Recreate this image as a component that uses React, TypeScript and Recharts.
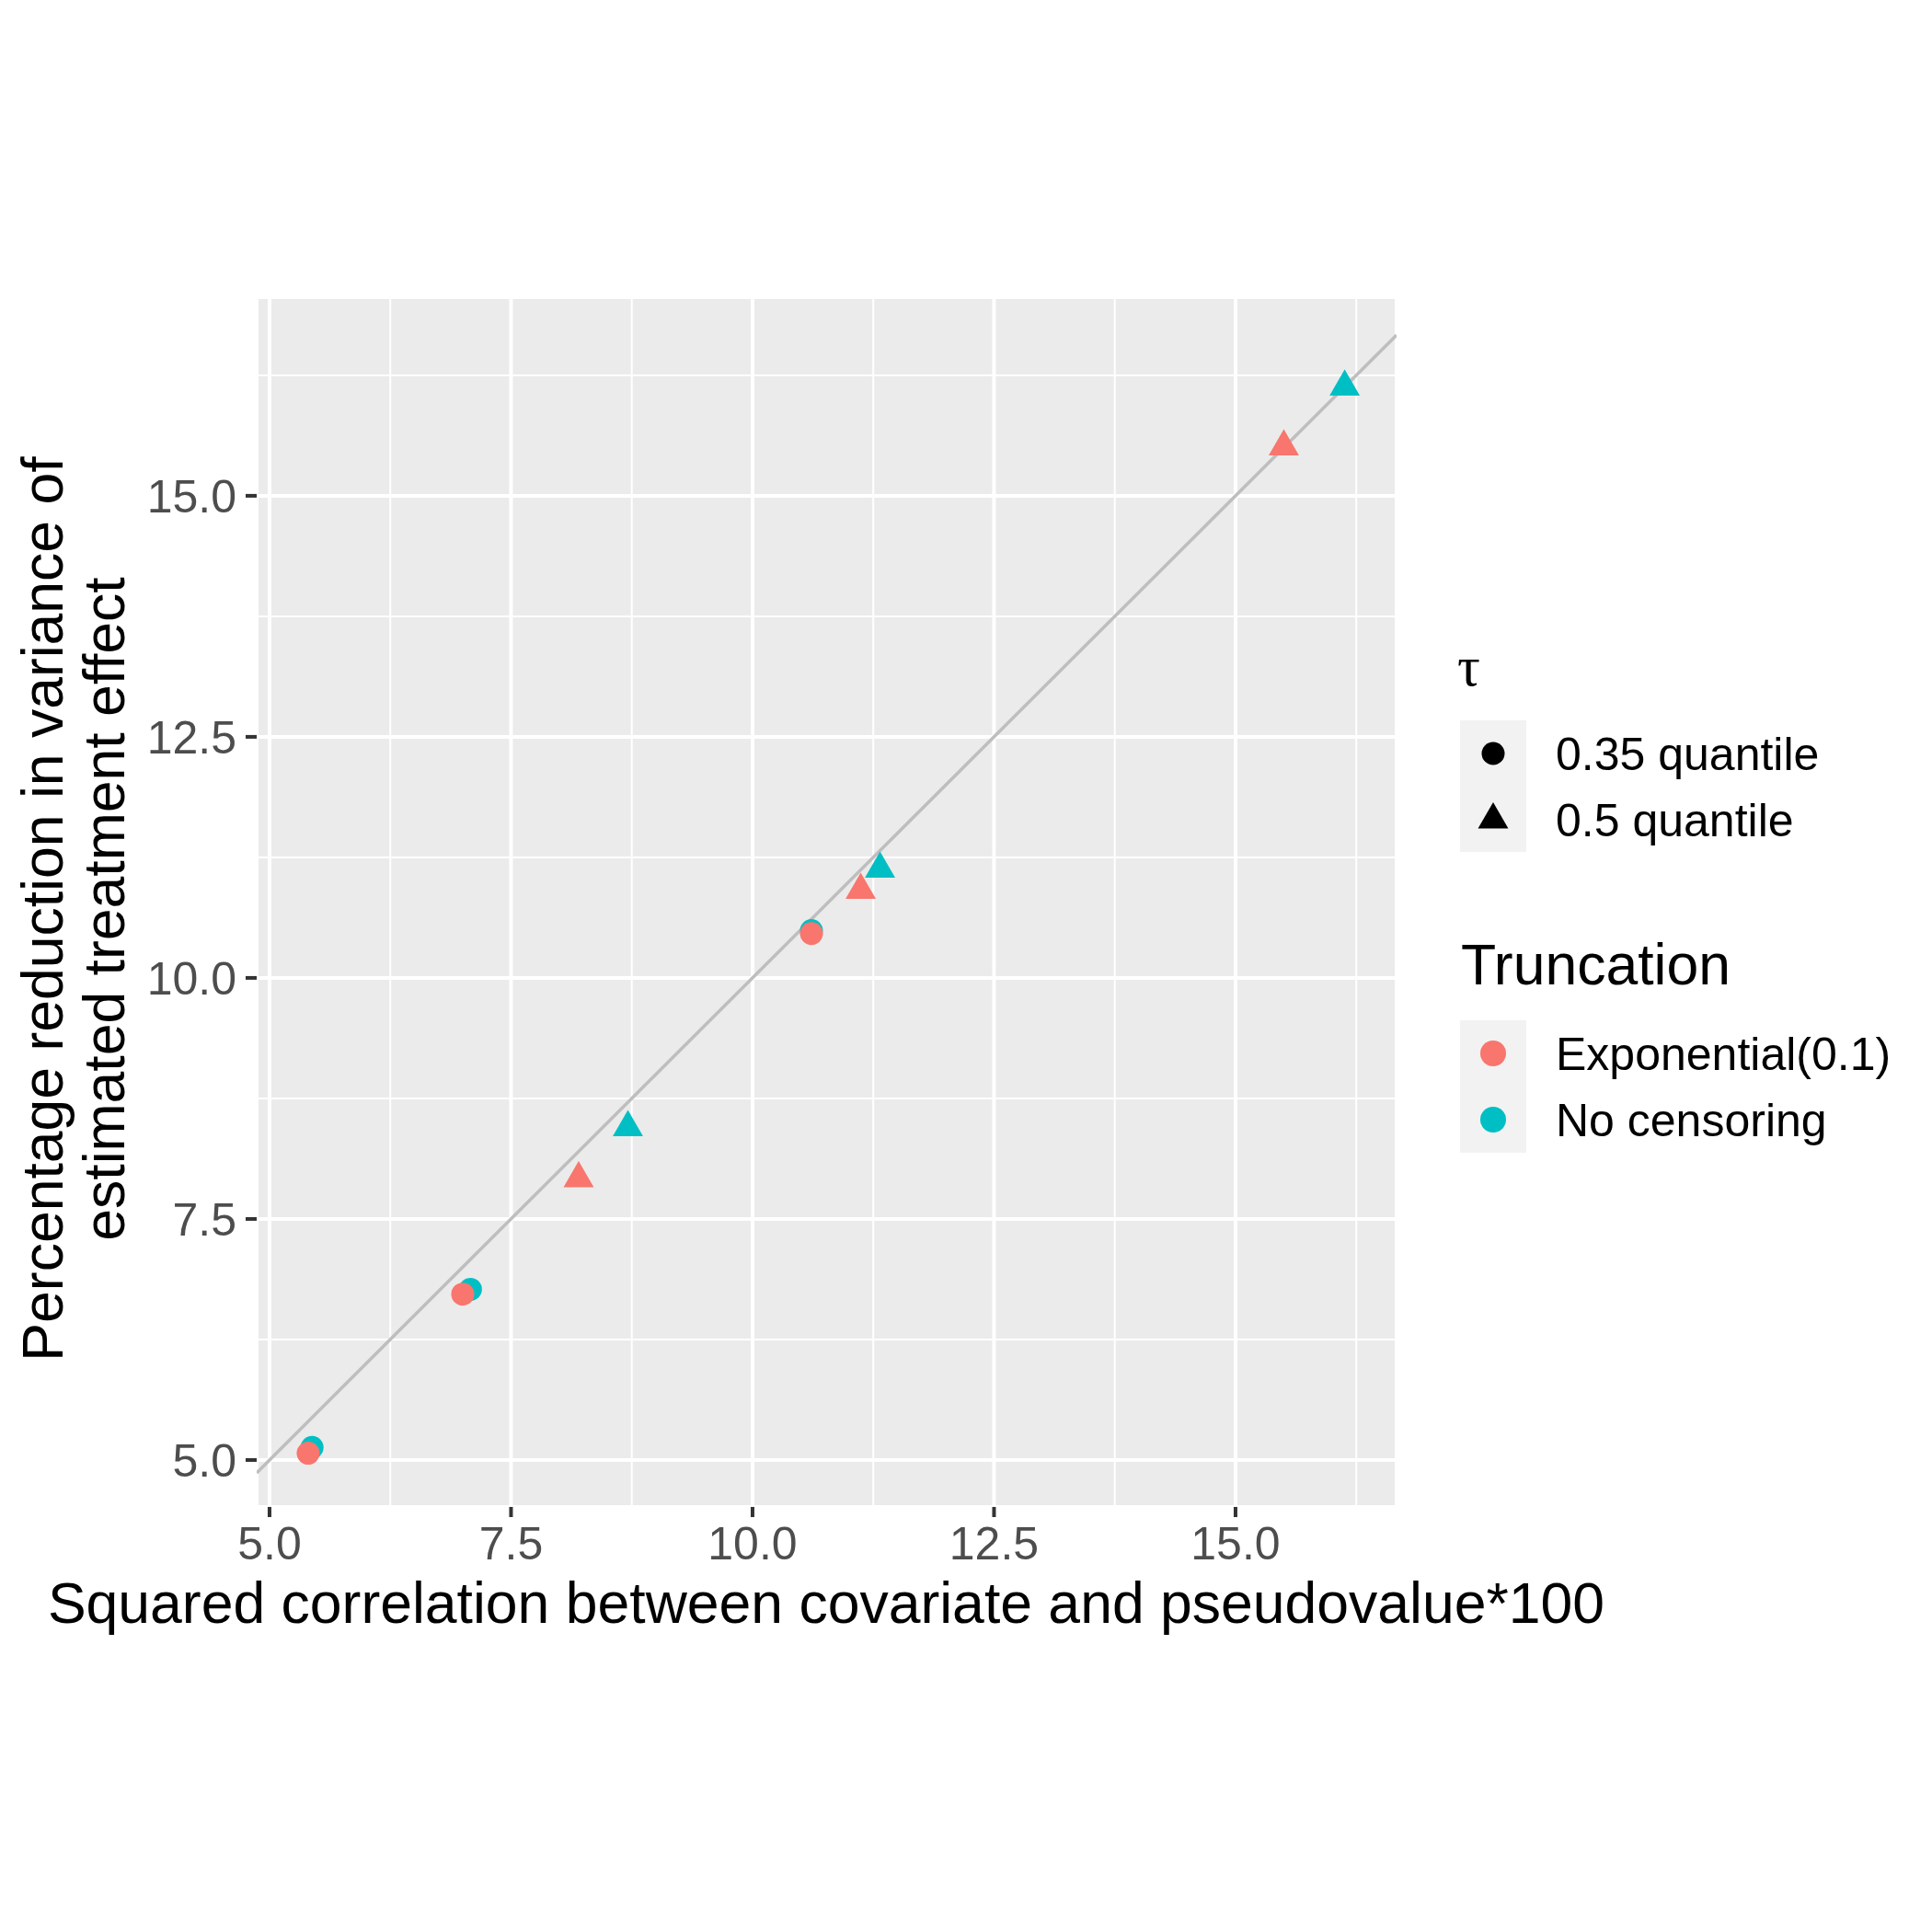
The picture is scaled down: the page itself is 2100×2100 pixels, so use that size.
import React from 'react';
import {
  ScatterChart,
  Scatter,
  XAxis,
  YAxis,
  CartesianGrid,
} from 'recharts';

// values (x = squared correlation*100, y = % reduction)
const expCircles = [
  { x: 5.4, y: 5.07 },
  { x: 7.0, y: 6.72 },
  { x: 10.61, y: 10.46 },
];
const noCensCircles = [
  { x: 5.44, y: 5.13 },
  { x: 7.08, y: 6.77 },
  { x: 10.61, y: 10.49 },
];
const expTriangles = [
  { x: 8.2, y: 7.92 },
  { x: 11.12, y: 10.91 },
  { x: 15.5, y: 15.51 },
];
const noCensTriangles = [
  { x: 8.71, y: 8.45 },
  { x: 11.32, y: 11.13 },
  { x: 16.13, y: 16.13 },
];

const X_DOMAIN = [4.867, 16.667];
const Y_DOMAIN = [4.513, 17.06];
const MAJOR_TICKS = [5, 7.5, 10, 12.5, 15];
const MINOR_TICKS = [6.25, 8.75, 11.25, 13.75, 16.25];
// identity line y = x across the x range
const identityLine = [
  { x: X_DOMAIN[0], y: X_DOMAIN[0] },
  { x: X_DOMAIN[1], y: X_DOMAIN[1] },
];

const shapeLegend = ['0.35 quantile', '0.5 quantile'];
const colourLegend = ['Exponential(0.1)', 'No censoring'];

const RED = '#F8766D';
const CYAN = '#00BFC4';
const FONT = '"Liberation Sans", Arial, Helvetica, sans-serif';
const TITLE_SIZE = 62.5;
const LABEL_SIZE = 50;

function dot(fill: string, r: number) {
  return (props: any) => <circle cx={props.cx} cy={props.cy} r={r} fill={fill} />;
}

function triPath(cx: number, cy: number, r: number) {
  const h = (r * Math.sqrt(3)) / 2;
  return `M${cx},${cy - r}L${cx + h},${cy + r / 2}L${cx - h},${cy + r / 2}Z`;
}

function tri(fill: string, r: number) {
  return (props: any) => <path d={triPath(props.cx, props.cy, r)} fill={fill} />;
}

const noShape = () => <g />;

export default function App() {
  const tickStyle = { fill: '#4D4D4D', fontSize: LABEL_SIZE, fontFamily: FONT };
  return (
    <div style={{ position: 'absolute', left: 0, top: 0, background: '#fff' }}>
      <ScatterChart
        width={2100}
        height={2100}
        margin={{ top: 323, right: 582, bottom: 362, left: 79 }}
      >
        {/* minor grid (on hidden axes) then major grid */}
        <CartesianGrid
          xAxisId="minor"
          yAxisId="minor"
          fill="#EBEBEB"
          fillOpacity={1}
          stroke="#FFFFFF"
          strokeWidth={2}
        />
        <CartesianGrid stroke="#FFFFFF" strokeWidth={4} fill="none" />
        <XAxis
          xAxisId="minor"
          type="number"
          dataKey="x"
          domain={X_DOMAIN}
          allowDataOverflow
          ticks={MINOR_TICKS}
          interval={0}
          hide
        />
        <YAxis
          yAxisId="minor"
          type="number"
          dataKey="y"
          domain={Y_DOMAIN}
          allowDataOverflow
          ticks={MINOR_TICKS}
          interval={0}
          hide
        />
        <XAxis
          type="number"
          dataKey="x"
          domain={X_DOMAIN}
          allowDataOverflow
          ticks={MAJOR_TICKS}
          interval={0}
          tickFormatter={(v: number) => v.toFixed(1)}
          axisLine={false}
          tickLine={{ stroke: '#333333', strokeWidth: 4 }}
          tickSize={11}
          tickMargin={10}
          height={100}
          tick={tickStyle}
        />
        <YAxis
          type="number"
          dataKey="y"
          domain={Y_DOMAIN}
          allowDataOverflow
          ticks={MAJOR_TICKS}
          interval={0}
          tickFormatter={(v: number) => v.toFixed(1)}
          axisLine={false}
          tickLine={{ stroke: '#333333', strokeWidth: 4 }}
          tickSize={12}
          tickMargin={10}
          width={200}
          tick={tickStyle}
        />
        <Scatter
          data={identityLine}
          line={{ stroke: '#BEBEBE', strokeWidth: 3.5 }}
          shape={noShape}
          legendType="none"
          isAnimationActive={false}
        />
        <Scatter data={noCensCircles} shape={dot(CYAN, 12.5)} isAnimationActive={false} />
        <Scatter data={expCircles} shape={dot(RED, 12.5)} isAnimationActive={false} />
        <Scatter data={expTriangles} shape={tri(RED, 19)} isAnimationActive={false} />
        <Scatter data={noCensTriangles} shape={tri(CYAN, 19)} isAnimationActive={false} />

        {/* axis titles */}
        <text x={898} y={1764} textAnchor="middle" fontSize={TITLE_SIZE} fontFamily={FONT} fill="#000">
          Squared correlation between covariate and pseudovalue*100
        </text>
        <text
          x={68}
          y={988}
          transform="rotate(-90 68 988)"
          textAnchor="middle"
          fontSize={TITLE_SIZE}
          fontFamily={FONT}
          fill="#000"
        >
          Percentage reduction in variance of
        </text>
        <text
          x={135}
          y={988}
          transform="rotate(-90 135 988)"
          textAnchor="middle"
          fontSize={TITLE_SIZE}
          fontFamily={FONT}
          fill="#000"
        >
          estimated treatment effect
        </text>

        {/* shape legend */}
        <text x={1584} y={745} fontSize={62} fontFamily='"Liberation Serif", "DejaVu Serif", serif' fill="#000">
          τ
        </text>
        <rect x={1587} y={783} width={72} height={143} fill="#F2F2F2" />
        <circle cx={1623} cy={819} r={12.5} fill="#000" />
        <path d={triPath(1623, 891, 19)} fill="#000" />
        {shapeLegend.map((s, i) => (
          <text key={s} x={1691} y={837 + i * 72} fontSize={LABEL_SIZE} fontFamily={FONT} fill="#000">
            {s}
          </text>
        ))}

        {/* colour legend */}
        <text x={1588} y={1070} fontSize={TITLE_SIZE} fontFamily={FONT} fill="#000">
          Truncation
        </text>
        <rect x={1587} y={1109} width={72} height={144} fill="#F2F2F2" />
        <circle cx={1623} cy={1145} r={14} fill={RED} />
        <circle cx={1623} cy={1217} r={14} fill={CYAN} />
        {colourLegend.map((s, i) => (
          <text key={s} x={1691} y={1163 + i * 72} fontSize={LABEL_SIZE} fontFamily={FONT} fill="#000">
            {s}
          </text>
        ))}
      </ScatterChart>
    </div>
  );
}
